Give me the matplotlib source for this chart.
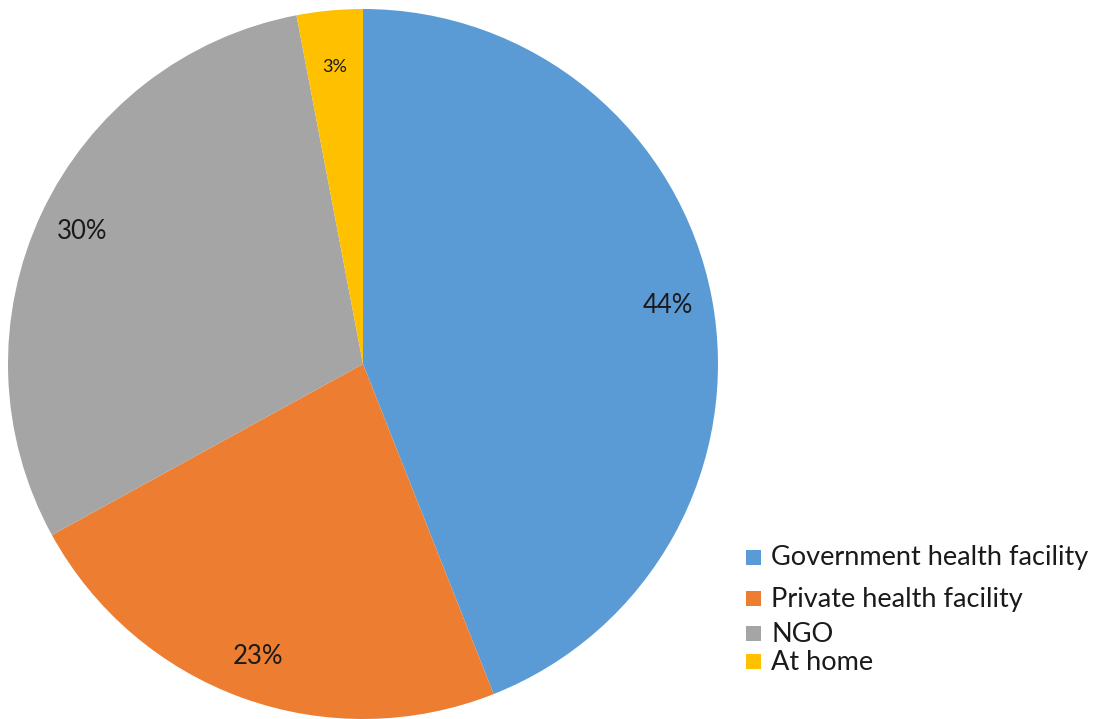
import matplotlib
matplotlib.use("Agg")
import matplotlib.pyplot as plt
from matplotlib.patches import Rectangle

categories = ["Government health facility", "Private health facility", "NGO", "At home"]
values = [44, 23, 30, 3]
colors = ["#5B9BD5", "#ED7D31", "#A5A5A5", "#FFC000"]

W, H = 1098, 719
fig = plt.figure(figsize=(W / 100, H / 100), dpi=100)
plt.rcParams['font.family'] = ['Lato', 'DejaVu Sans']

cx, cy, R = 363, 364, 355
ax = fig.add_axes([(cx - R) / W, (H - cy - R) / H, 2 * R / W, 2 * R / H])
wedges, texts, autotexts = ax.pie(values, colors=colors, startangle=90, counterclock=False,
                                  radius=1, autopct=lambda p: f"{p:.0f}%", pctdistance=0.875,
                                  textprops=dict(fontsize=18.5, color="#1a1a1a"))
autotexts[3].set_fontsize(13)
x, y = autotexts[3].get_position()
autotexts[3].set_position((x * 0.84 / 0.875, y * 0.84 / 0.875))
ax.set_xlim(-1, 1)
ax.set_ylim(-1, 1)
ax.set_aspect('equal')
ax.axis('off')

# manual legend
leg_y = [558, 599, 634, 662]
for c, lab, yy in zip(colors, categories, leg_y):
    fig.patches.append(Rectangle(((746) / W, (H - yy - 7) / H), 15 / W, 15 / H,
                                 transform=fig.transFigure, facecolor=c, edgecolor='none'))
    fig.text(771 / W, (H - yy) / H, lab, fontsize=19.5, va='center', ha='left', color="#1a1a1a")

fig.savefig("out.png", dpi=100)
